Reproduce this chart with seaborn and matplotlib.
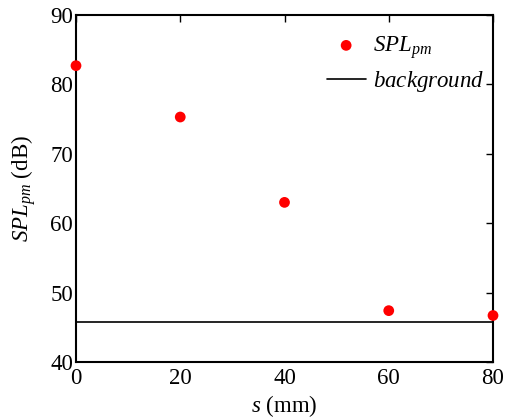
import matplotlib
matplotlib.use("Agg")
import matplotlib.pyplot as plt
import seaborn as sns
import pandas as pd

# data
s_mm = [0, 20, 40, 60, 80]
spl_pm = [82.7, 75.3, 63.0, 47.4, 46.7]
background = 45.8

sns.set_theme(style="white")
plt.rcParams['font.family'] = ['Liberation Serif', 'DejaVu Serif']
plt.rcParams['mathtext.fontset'] = 'custom'
plt.rcParams['mathtext.rm'] = 'Liberation Serif'
plt.rcParams['mathtext.it'] = 'Liberation Serif:italic'
plt.rcParams['text.color'] = 'black'
plt.rcParams['axes.labelcolor'] = 'black'
fs = 16.5

df = pd.DataFrame({"s": s_mm, "spl": spl_pm})

fig = plt.figure(figsize=(5.05, 4.18), dpi=100)
ax = fig.add_axes([76 / 505, 1 - 362 / 418, (493 - 76) / 505, (362 - 15) / 418])

sns.scatterplot(data=df, x="s", y="spl", ax=ax, color="red", s=60,
                edgecolor="none", label=r"$SPL_{pm}$", clip_on=False, zorder=3)
ax.axhline(background, color="black", lw=1.2, label=r"$background$")

ax.set_xlim(0, 80)
ax.set_ylim(40, 90)
ax.set_xticks([0, 20, 40, 60, 80])
ax.set_yticks([40, 50, 60, 70, 80, 90])
ax.tick_params(direction="in", length=5, width=1, top=True, right=True,
               labelsize=fs, colors="black")
ax.tick_params(axis="x", pad=4)
ax.tick_params(axis="y", pad=2)
for sp in ax.spines.values():
    sp.set_color("black")
    sp.set_linewidth(1.5)

ax.set_xlabel(r"$s$ (mm)", fontsize=fs, labelpad=3)
ax.set_ylabel(r"$SPL_{pm}$ (dB)", fontsize=fs, labelpad=9)

leg = ax.legend(loc="upper right", frameon=False, fontsize=fs,
                handlelength=1.7, handletextpad=0.3, borderaxespad=0.0,
                labelspacing=0.35, bbox_to_anchor=(1.0, 0.972))

fig.savefig("out.png", dpi=100)
